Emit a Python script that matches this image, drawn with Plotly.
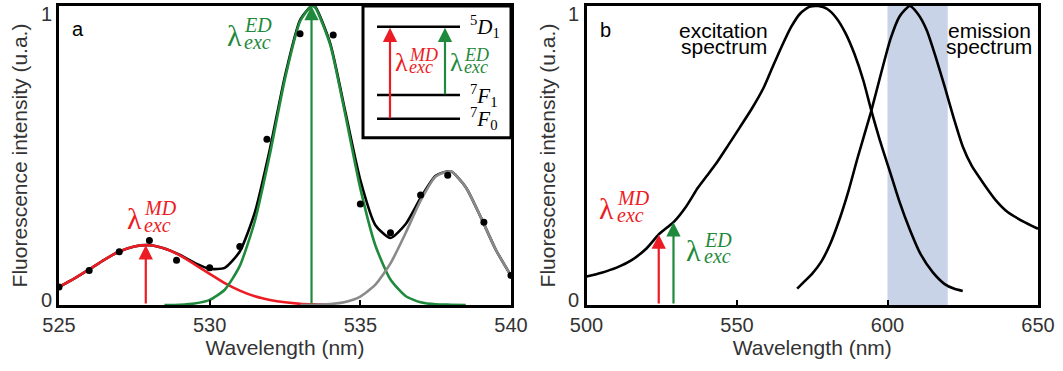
import plotly.graph_objects as go

# ---------------- Panel a data ----------------
dots_x = [525.0, 526.0, 527.0, 528.0, 528.9, 530.0, 531.0, 531.9, 533.0, 534.1, 535.0, 536.0, 537.0, 537.9, 539.1, 540.0]
dots_y = [0.060, 0.115, 0.178, 0.216, 0.150, 0.125, 0.196, 0.554, 0.907, 0.903, 0.338, 0.242, 0.368, 0.434, 0.277, 0.099]

md_x = [525.0, 525.5, 526.0, 526.5, 527.0, 527.5, 528.0, 528.5, 529.0, 529.5, 530.0, 530.5, 531.0, 531.5, 532.0, 532.5, 533.0, 533.5, 534.0]
md_y = [0.060, 0.088, 0.119, 0.151, 0.179, 0.196, 0.200, 0.189, 0.167, 0.136, 0.104, 0.073, 0.048, 0.029, 0.017, 0.009, 0.004, 0.002, 0.001]

ed_x = [528.5, 529.0, 529.5, 530.0, 530.5, 531.0, 531.5, 532.0, 532.5, 533.0, 533.38, 533.5, 534.0, 534.5, 535.0, 535.5, 536.0, 536.5, 537.0, 537.5, 538.0, 538.5]
ed_y = [0.000, 0.001, 0.005, 0.017, 0.051, 0.131, 0.281, 0.505, 0.757, 0.949, 1.000, 0.995, 0.871, 0.637, 0.390, 0.199, 0.085, 0.030, 0.009, 0.002, 0.001, 0.000]

third_x = [533.0, 533.5, 534.0, 534.5, 535.0, 535.5, 536.0, 536.5, 537.0, 537.5, 538.0, 538.5, 539.0, 539.5, 540.0]
third_y = [0.000, 0.001, 0.003, 0.010, 0.028, 0.068, 0.139, 0.240, 0.349, 0.430, 0.447, 0.394, 0.293, 0.184, 0.098]

fit_x = [525.0, 525.5, 526.0, 526.5, 527.0, 527.5, 528.0, 528.5, 529.0, 529.5, 530.0, 530.5, 531.0, 531.5, 532.0, 532.5, 533.0, 533.38, 533.5, 534.0, 534.5, 535.0, 535.5, 536.0, 536.5, 537.0, 537.5, 538.0, 538.5, 539.0, 539.5, 540.0]
fit_y = [0.060, 0.088, 0.119, 0.151, 0.179, 0.196, 0.200, 0.189, 0.168, 0.141, 0.121, 0.124, 0.179, 0.310, 0.522, 0.766, 0.953, 1.000, 0.998, 0.875, 0.647, 0.418, 0.267, 0.224, 0.270, 0.358, 0.432, 0.447, 0.394, 0.293, 0.184, 0.098]

arrow_a_x = {"MD": 527.88, "ED": 533.38}
arrow_a_y = {"MD": 0.200, "ED": 1.000}

# ---------------- Panel b data ----------------
exc_x = [500, 505, 510, 515, 520, 524, 529, 533, 537, 540, 543, 547, 551, 555, 559, 562, 565, 568, 571, 574, 577, 580, 583, 586, 589, 592, 594.5, 597.5, 601, 604, 607.5, 611, 615, 619, 622, 625]
exc_y = [0.095, 0.108, 0.125, 0.150, 0.190, 0.236, 0.278, 0.328, 0.392, 0.432, 0.472, 0.533, 0.595, 0.658, 0.730, 0.800, 0.868, 0.930, 0.975, 0.997, 1.000, 0.990, 0.960, 0.910, 0.840, 0.750, 0.655, 0.550, 0.440, 0.345, 0.250, 0.170, 0.110, 0.070, 0.055, 0.047]

em_x = [570, 572, 575, 578, 581, 584, 587, 590, 594.5, 598, 601, 604, 607.4, 610, 613, 616, 619, 622, 625, 628, 632, 636, 640, 645, 650]
em_y = [0.055, 0.075, 0.105, 0.145, 0.205, 0.285, 0.380, 0.490, 0.645, 0.780, 0.890, 0.965, 1.000, 0.975, 0.920, 0.830, 0.730, 0.625, 0.530, 0.465, 0.405, 0.350, 0.310, 0.280, 0.255]

arrow_b_x = {"MD": 524.0, "ED": 528.9}
arrow_b_y = {"MD": 0.236, "ED": 0.277}

band_b = [600, 620]

x_ticks_a = [525, 530, 535, 540]
x_ticks_b = [500, 550, 600, 650]
y_tick_labels = ["0", "1"]

RED = "#ec1c24"
GREEN = "#1f8a3c"
GRAY = "#8a8a8a"
TXT = "#333333"
SANS = "Liberation Sans, Arial, sans-serif"
SERIF = "Liberation Serif, Times New Roman, serif"

fig = go.Figure()

def line(x, y, color, xa="x", ya="y"):
    fig.add_trace(go.Scatter(x=x, y=y, mode="lines", line=dict(color=color, width=2.6, shape="spline", smoothing=0.6),
                             xaxis=xa, yaxis=ya, showlegend=False, hoverinfo="skip"))

line(fit_x, fit_y, "black")
line(md_x, md_y, RED)
line(ed_x, ed_y, GREEN)
line(third_x, third_y, GRAY)
fig.add_trace(go.Scatter(x=dots_x, y=dots_y, mode="markers", marker=dict(color="black", size=7),
                         showlegend=False, hoverinfo="skip"))
line(exc_x, exc_y, "black", "x2", "y2")
line(em_x, em_y, "black", "x2", "y2")

W, H = 1063, 371
ML, MR, MT, MB = 59, 25, 3, 66
PW = W - ML - MR
PH = H - MT - MB

def px(xp):
    return (xp - ML) / PW

def py(yp):
    return (MT + PH - yp) / PH

axis_common = dict(showgrid=False, zeroline=False, showline=True, linecolor="black", linewidth=3, mirror=True,
                   tickfont=dict(family=SANS, size=20, color=TXT))
xa_common = dict(axis_common, ticks="inside", ticklen=5, tickwidth=2, tickcolor="black",
                 title=dict(text="Wavelength (nm)", font=dict(family=SANS, size=21, color=TXT), standoff=6))
ya_common = dict(axis_common, ticks="", showticklabels=False, range=[0, 1],
                 title=dict(text="Fluorescence intensity (u.a.)", font=dict(family=SANS, size=21, color=TXT), standoff=23))

fig.update_layout(
    width=W, height=H, margin=dict(l=ML, r=MR, t=MT, b=MB),
    plot_bgcolor="white", paper_bgcolor="white",
    xaxis=dict(xa_common, domain=[0, px(511)], range=[525, 540], tickvals=x_ticks_a),
    yaxis=dict(ya_common, anchor="x"),
    xaxis2=dict(xa_common, domain=[px(586.5), 1], range=[500, 650], tickvals=x_ticks_b, anchor="y2"),
    yaxis2=dict(ya_common, anchor="x2"),
)

shapes = []
# blue band in panel b
shapes.append(dict(type="rect", xref="x2", yref="y2 domain", x0=band_b[0], x1=band_b[1], y0=0, y1=1,
                   fillcolor="#c8d3e8", line=dict(width=0), layer="below"))
# inset box in panel a
shapes.append(dict(type="rect", xref="paper", yref="paper", x0=px(363), x1=px(511), y0=py(136), y1=1,
                   fillcolor="white", line=dict(color="black", width=3), layer="above"))
for yl in [24, 93, 117]:
    shapes.append(dict(type="line", xref="paper", yref="paper", x0=px(377), x1=px(460), y0=py(yl), y1=py(yl),
                       line=dict(color="black", width=2.5)))
fig.update_layout(shapes=shapes)

ann = []

def arrow(x, y, ax, ay, color, xref, yref, axref, ayref):
    ann.append(dict(x=x, y=y, ax=ax, ay=ay, xref=xref, yref=yref, axref=axref, ayref=ayref, text="",
                    showarrow=True, arrowhead=2, arrowsize=1.3, arrowwidth=2.2, arrowcolor=color, standoff=0))

arrow(arrow_a_x["MD"], arrow_a_y["MD"], arrow_a_x["MD"], 0, RED, "x", "y", "x", "y")
arrow(arrow_a_x["ED"], arrow_a_y["ED"], arrow_a_x["ED"], 0, GREEN, "x", "y", "x", "y")
arrow(arrow_b_x["MD"], arrow_b_y["MD"], arrow_b_x["MD"], 0, RED, "x2", "y2", "x2", "y2")
arrow(arrow_b_x["ED"], arrow_b_y["ED"], arrow_b_x["ED"], 0, GREEN, "x2", "y2", "x2", "y2")
# inset arrows (pixel tails)
arrow(px(390), py(25), 0, 117 - 25, RED, "paper", "paper", "pixel", "pixel")
arrow(px(445), py(25), 0, 93 - 25, GREEN, "paper", "paper", "pixel", "pixel")

def txt(x, y, s, size, color, family=SANS, xanchor="center"):
    ann.append(dict(x=px(x), y=py(y), xref="paper", yref="paper", text=s, showarrow=False,
                    font=dict(family=family, size=size, color=color), xanchor=xanchor, yanchor="middle"))

# y tick labels (0 and 1) placed as in the reference
for xc in (46, 573):
    txt(xc, 300, y_tick_labels[0], 20, TXT)
    txt(xc, 11, y_tick_labels[1], 20, TXT)

def lam(xc, yc, sup, color, big=30, small=20, dx=8, up=-11, down=6):
    txt(xc, yc, "λ", big, color, SERIF)
    txt(xc + dx, yc + up, "<i>%s</i>" % sup, small, color, SERIF, "left")
    txt(xc + dx, yc + down, "<i>exc</i>", small, color, SERIF, "left")

lam(134, 218, "MD", RED)
lam(234, 33, "ED", GREEN)
lam(606.5, 208, "MD", RED)
lam(693.5, 250, "ED", GREEN)
lam(401, 60, "MD", RED, big=26, small=18, dx=6, up=-8, down=5)
lam(456, 60, "ED", GREEN, big=26, small=18, dx=6, up=-8, down=5)

# level labels
txt(468, 24, "<sup>5</sup><i>D</i><sub>1</sub>", 21, "black", SERIF, "left")
txt(468, 93, "<sup>7</sup><i>F</i><sub>1</sub>", 21, "black", SERIF, "left")
txt(468, 117, "<sup>7</sup><i>F</i><sub>0</sub>", 21, "black", SERIF, "left")

txt(77.5, 26.5, "a", 20, "black")
txt(605, 27, "b", 20, "black")
txt(723.5, 28, "excitation", 21, "black")
txt(724, 44, "spectrum", 21, "black")
txt(989, 28, "emission", 21, "black")
txt(989, 44, "spectrum", 21, "black")

fig.update_layout(annotations=ann)
fig.write_html("out.html", config={"displayModeBar": False},
               post_script="document.body.style.margin='0px';document.body.style.overflow='hidden';")
